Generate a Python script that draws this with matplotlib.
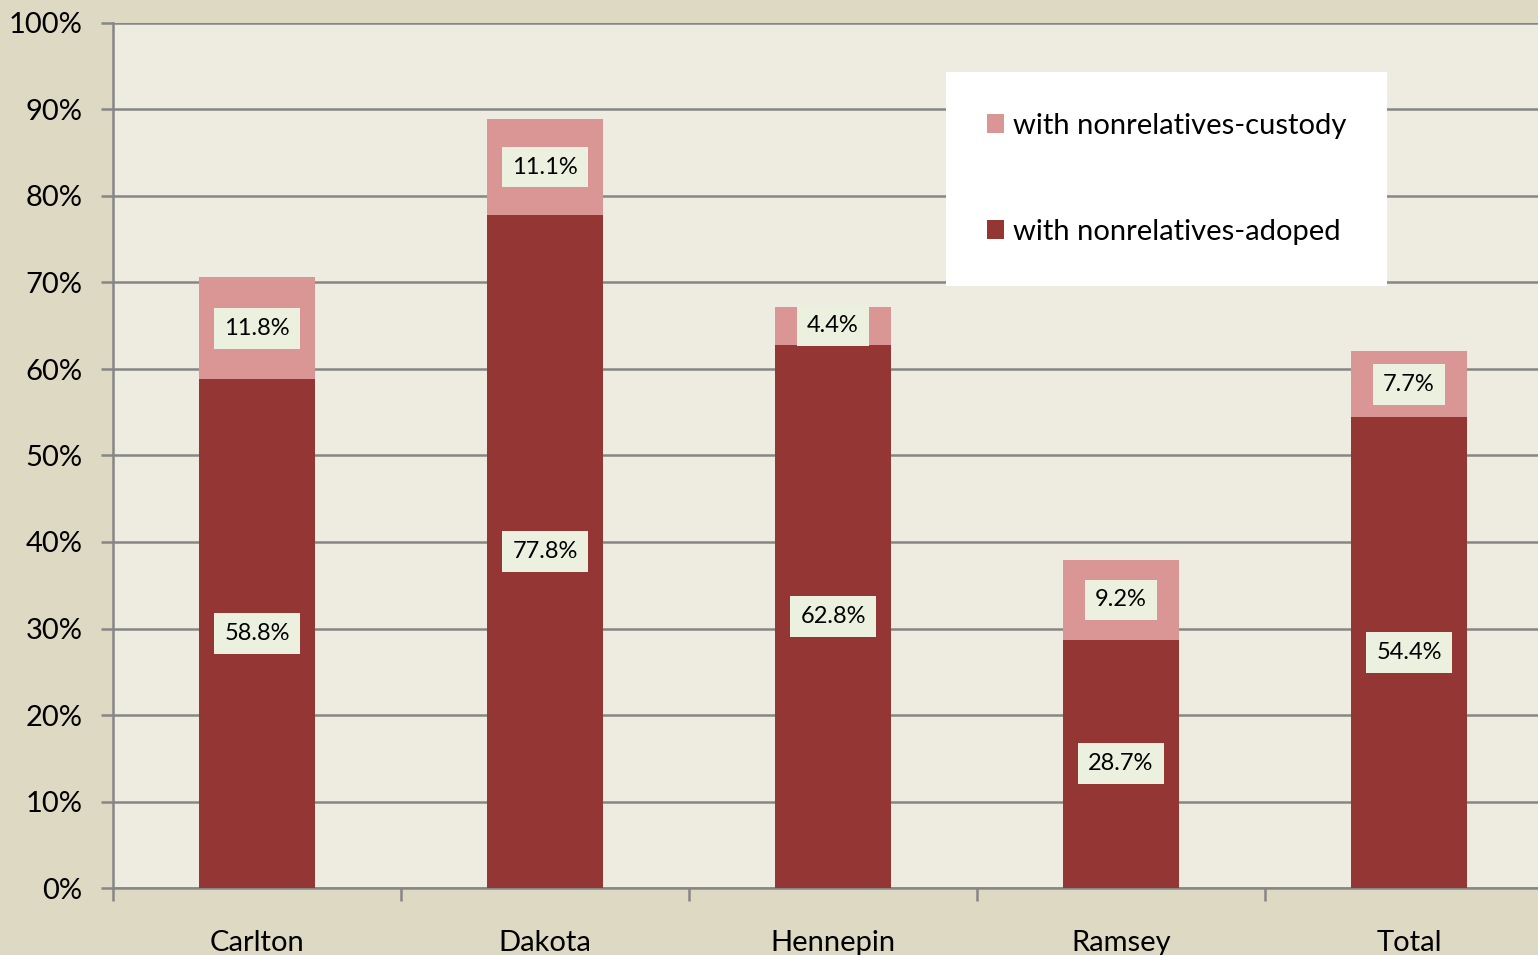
import matplotlib
matplotlib.use("Agg")
import matplotlib.pyplot as plt
import numpy as np

plt.rcParams['font.family'] = ['Lato', 'DejaVu Sans']

counties = ["Carlton", "Dakota", "Hennepin", "Ramsey", "Total"]
adopted = [58.8, 77.8, 62.8, 28.7, 54.4]
custody = [11.8, 11.1, 4.4, 9.2, 7.7]

dark = "#943634"
light = "#d99694"

fig = plt.figure(figsize=(15.38, 9.55), dpi=100, facecolor="#ddd9c3")
ax = fig.add_axes([113/1538, 67/955, 1440/1538, 865/955])
ax.set_facecolor("#eeece1")

x = np.arange(len(counties))
b1 = ax.bar(x, adopted, 0.4, color=dark, label="with nonrelatives-adoped", zorder=3)
b2 = ax.bar(x, custody, 0.4, bottom=adopted, color=light,
            label="with nonrelatives-custody", zorder=3)

box = dict(boxstyle="square,pad=0.42", facecolor="#ebf1de", edgecolor="none")
for i in range(len(counties)):
    ax.text(x[i], adopted[i] / 2, f"{adopted[i]:.1f}%", ha="center", va="center",
            fontsize=17, bbox=box, zorder=4)
    ax.text(x[i], adopted[i] + custody[i] / 2, f"{custody[i]:.1f}%", ha="center",
            va="center", fontsize=17, bbox=box, zorder=4)

ax.set_xlim(-0.5, 4.5)
ax.set_ylim(0, 100)
ax.set_yticks(np.arange(0, 101, 10))
ax.set_yticklabels([f"{v}%" for v in range(0, 101, 10)], fontsize=21)
ax.yaxis.grid(True, color="#868686", linewidth=1.8, zorder=0)
ax.tick_params(axis="y", length=9, width=1.8, color="#868686", pad=13)

ax.set_xticks(x)
ax.set_xticklabels(counties, fontsize=21)
ax.tick_params(axis="x", which="major", length=0, pad=30)
ax.set_xticks(np.arange(-0.5, 5, 1), minor=True)
ax.tick_params(axis="x", which="minor", length=9, width=1.8, color="#868686")

for s in ["top", "right"]:
    ax.spines[s].set_visible(False)
for s in ["left", "bottom"]:
    ax.spines[s].set_color("#868686")
    ax.spines[s].set_linewidth(1.8)

handles = [b2, b1]
leg = ax.legend(handles, [h.get_label() for h in handles],
                loc="upper left", bbox_to_anchor=(946/1538, 1 - 72/955),
                bbox_transform=fig.transFigure, fontsize=21, frameon=True,
                fancybox=False, framealpha=1, edgecolor="none",
                handlelength=0.6, handleheight=0.6, handletextpad=0.3,
                labelspacing=2.75, borderpad=1.4, borderaxespad=0)
leg.get_frame().set_facecolor("white")
leg.set_zorder(5)

fig.savefig("out.png", dpi=100, facecolor=fig.get_facecolor())
